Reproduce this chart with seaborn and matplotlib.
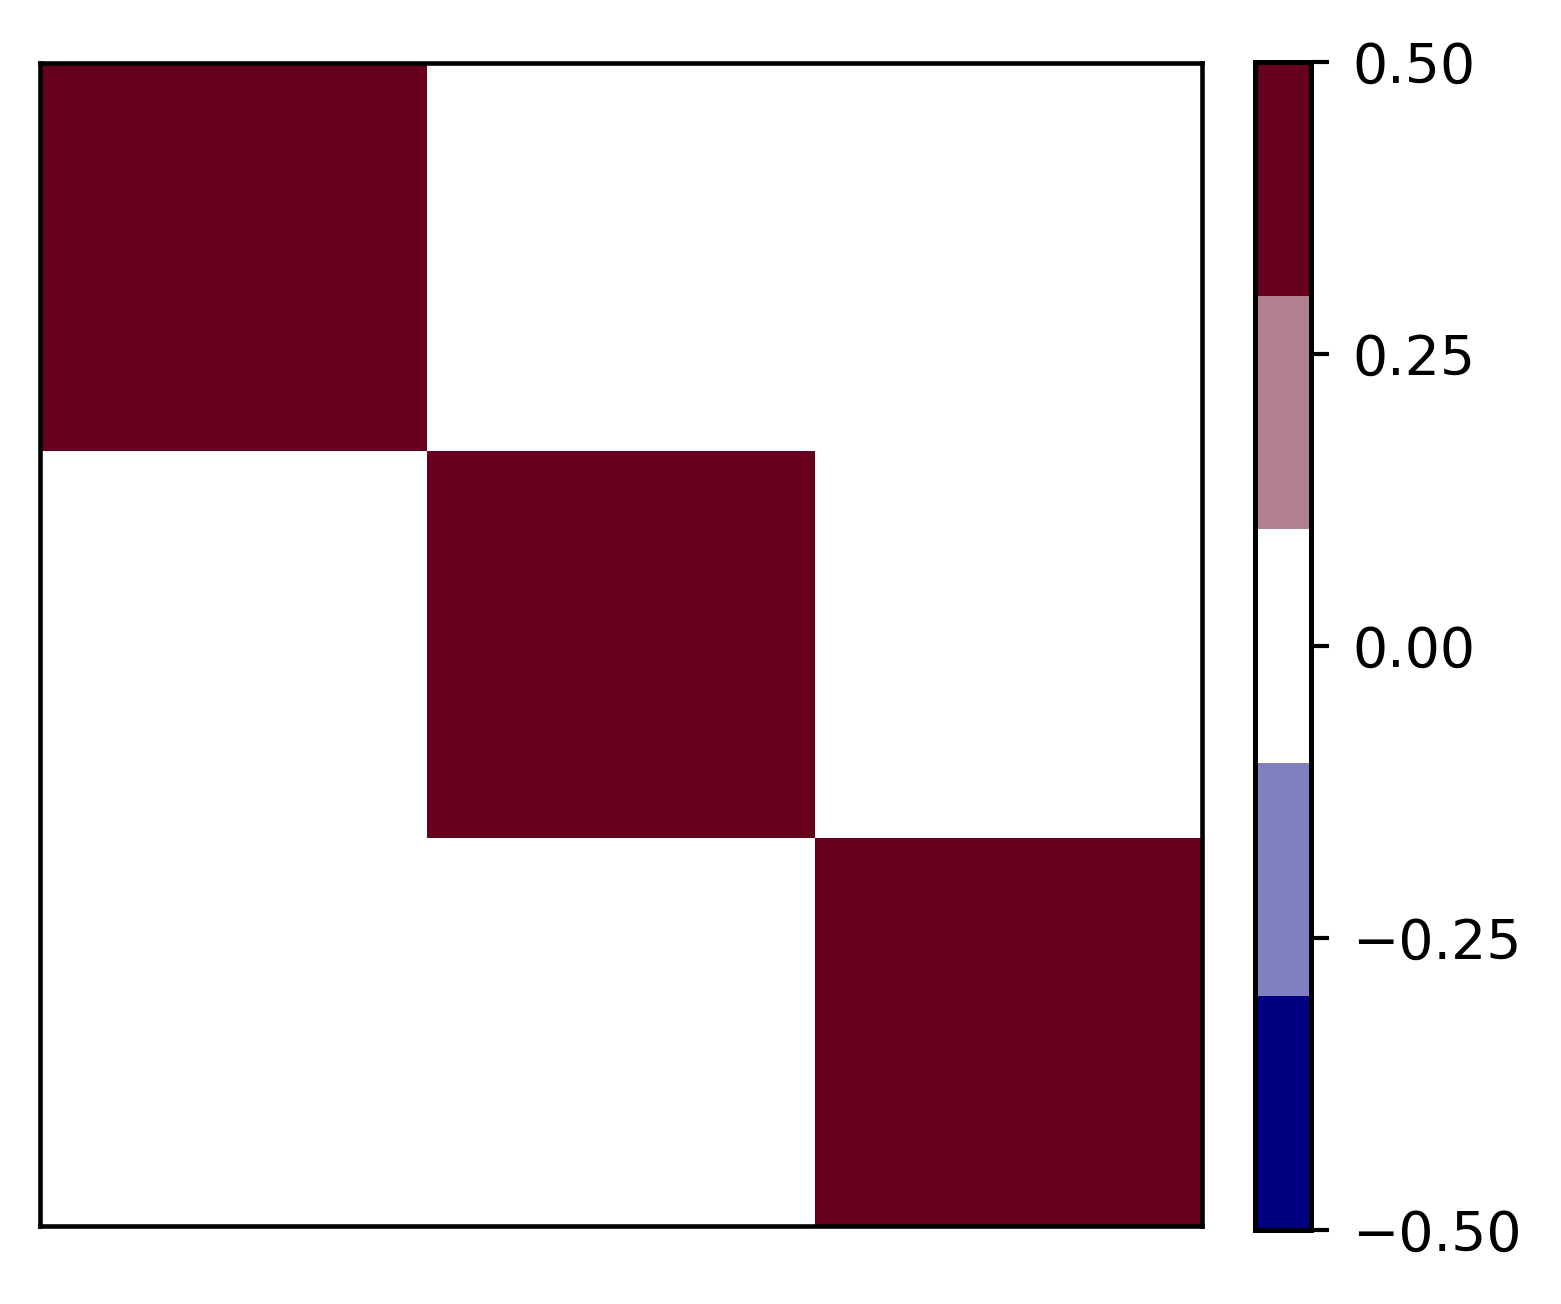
import numpy as np
import matplotlib
matplotlib.use("Agg")
import matplotlib.pyplot as plt
from matplotlib.colors import ListedColormap
import seaborn as sns

matrix = [[1, 0, 0],
          [0, 1, 0],
          [0, 0, 1]]
cbar_ticks = [-0.5, -0.25, 0.0, 0.25, 0.5]
level_colors = ["#000080", "#8080bf", "#ffffff", "#b3808f", "#67001f"]

sns.set_theme(style="white")
plt.rcParams['font.family'] = ['DejaVu Sans']

fig = plt.figure(figsize=(1561 / 300, 1304 / 300), dpi=300)
ax = fig.add_axes([40 / 1561, 1 - 1226 / 1304, (1202 - 40) / 1561, (1226 - 63) / 1304])
cax = fig.add_axes([1255 / 1561, 1 - 1230 / 1304, (1311 - 1255) / 1561, (1230 - 62) / 1304])

cmap = ListedColormap(level_colors)
sns.heatmap(np.array(matrix), ax=ax, cbar_ax=cax, cmap=cmap, vmin=-0.5, vmax=0.5,
            xticklabels=False, yticklabels=False, cbar=True)

for s in ax.spines.values():
    s.set_visible(True)
    s.set_color("black")
    s.set_linewidth(1.1)

cb = ax.collections[0].colorbar
cb.outline.set_visible(True)
cb.outline.set_linewidth(1.2)
cb.outline.set_edgecolor("black")
cb.set_ticks(cbar_ticks)
cax.tick_params(labelsize=13.3, length=4.4, width=1, pad=5.5, color="black",
                labelcolor="black", right=True, direction="out")

fig.savefig("out.png", dpi=300)
